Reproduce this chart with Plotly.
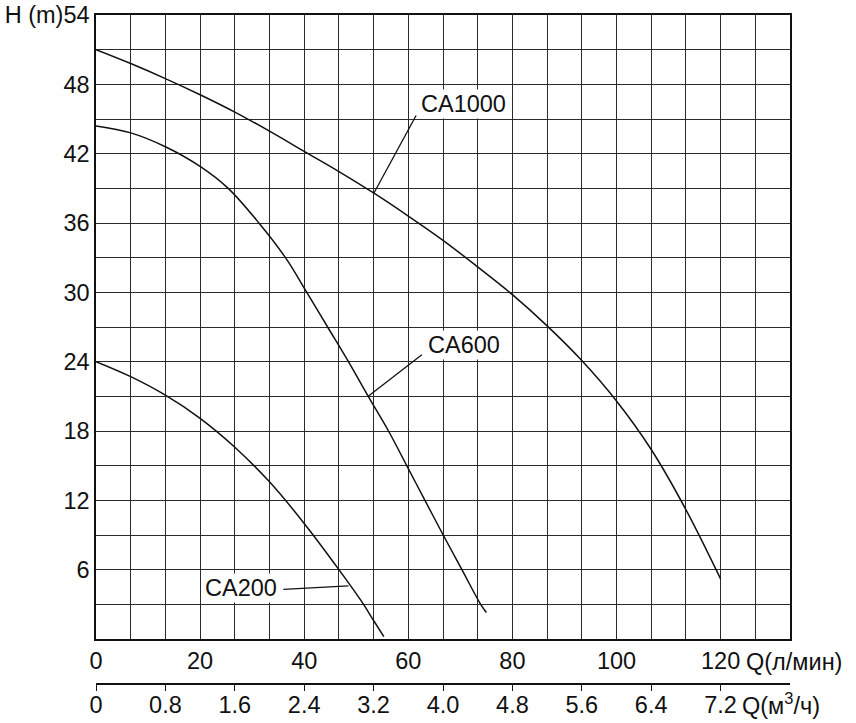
import plotly.graph_objects as go

# ---- data (Q in l/min, H in m) ----
q_ca1000 = [0, 6.67, 13.33, 20, 26.67, 33.33, 40, 46.67, 53.33, 60, 66.67, 73.33, 80, 86.67, 93.33, 100, 106.67, 113.33, 120]
h_ca1000 = [51.0, 49.8, 48.5, 47.1, 45.6, 43.95, 42.2, 40.45, 38.6, 36.6, 34.5, 32.2, 29.8, 27.1, 24.1, 20.6, 16.4, 11.2, 5.2]

q_ca600 = [0, 6.67, 13.33, 20, 25.4, 31.3, 36.4, 40.5, 44.5, 48.5, 52.3, 56.2, 59.7, 63.2, 66.7, 70.3, 73.9, 75.0]
h_ca600 = [44.4, 43.8, 42.6, 40.9, 39.0, 36.0, 33.0, 30.0, 27.0, 24.0, 21.0, 18.0, 15.0, 12.0, 9.0, 6.0, 3.0, 2.3]

q_ca200 = [0, 6.67, 13.33, 20, 26.67, 33.33, 40, 46.67, 51.4, 53.33, 55.3]
h_ca200 = [24.0, 22.7, 21.1, 19.1, 16.6, 13.6, 10.0, 6.0, 3.0, 1.6, 0.2]

series_names = ["CA1000", "CA600", "CA200"]

x_lmin_ticks = [0, 20, 40, 60, 80, 100, 120]
x_m3h_ticks = [0, 0.8, 1.6, 2.4, 3.2, 4.0, 4.8, 5.6, 6.4, 7.2]
x_m3h_labels = ["0", "0.8", "1.6", "2.4", "3.2", "4.0", "4.8", "5.6", "6.4", "7.2"]
y_ticks = [6, 12, 18, 24, 30, 36, 42, 48, 54]
y_labels = ["6", "12", "18", "24", "30", "36", "42", "48", "H (m)54"]

# label placement: (text x, text y, leader start x, y, leader end x, y)
label_pos = {
    "CA1000": (70.7, 46.3, 61.5, 45.3, 53.4, 38.6),
    "CA600": (70.7, 25.4, 62.6, 24.6, 52.3, 21.0),
    "CA200": (27.8, 4.4, 36.0, 4.3, 48.5, 4.6),
}

FONT = "Liberation Sans, Arial, sans-serif"
FS = 23.5
GRID = "#2b2b2b"

fig = go.Figure()
for name, q, h in zip(series_names, [q_ca1000, q_ca600, q_ca200], [h_ca1000, h_ca600, h_ca200]):
    fig.add_trace(go.Scatter(x=q, y=h, mode="lines", name=name,
                             line=dict(color="#111", width=1.5, shape="spline", smoothing=1.0),
                             showlegend=False, hoverinfo="skip"))

# invisible traces to hold the m3/h axis (labels) and its tick marks
for ax in ["x2", "x3"]:
    fig.add_trace(go.Scatter(x=[0, 8], y=[0, 0], xaxis=ax, yaxis="y", mode="lines",
                             line=dict(width=0), opacity=0, showlegend=False, hoverinfo="skip"))

for name, (tx, ty, sx, sy, ex, ey) in label_pos.items():
    fig.add_shape(type="line", x0=sx, y0=sy, x1=ex, y1=ey, xref="x", yref="y",
                  line=dict(color="#111", width=1.3))
    fig.add_annotation(x=tx, y=ty, xref="x", yref="y", text=name, showarrow=False,
                       bgcolor="white", font=dict(family=FONT, size=FS, color="#111"),
                       borderpad=1)

ydom0 = 45 / 669

fig.update_layout(
    width=856, height=723,
    margin=dict(l=96, r=66, t=15, b=39, autoexpand=False),
    paper_bgcolor="white", plot_bgcolor="white",
    font=dict(family=FONT, size=FS, color="#111"),
    xaxis=dict(range=[0, 400 / 3], tickvals=x_lmin_ticks, ticktext=[str(v) for v in x_lmin_ticks],
               showgrid=True, gridcolor=GRID, gridwidth=1.3,
               minor=dict(dtick=20 / 3, tick0=0, showgrid=True, gridcolor=GRID, gridwidth=1.3),
               showline=True, linecolor="#111", linewidth=1.5, mirror=True,
               ticks="", zeroline=False, anchor="y", automargin=False),
    xaxis2=dict(range=[0, 8], overlaying="x", anchor="free", position=0, side="bottom",
                tickvals=x_m3h_ticks, ticktext=x_m3h_labels, ticks="",
                showline=True, linecolor="#111", linewidth=1.5,
                showgrid=False, zeroline=False, automargin=False),
    xaxis3=dict(range=[0, 8], overlaying="x", anchor="free", position=0, side="bottom",
                tickvals=x_m3h_ticks, showticklabels=False,
                ticks="outside", ticklen=6, tickcolor="#111", tickwidth=1.3,
                showline=False, showgrid=False, zeroline=False, automargin=False),
    yaxis=dict(range=[0, 54], domain=[ydom0, 1], tickvals=y_ticks, ticktext=y_labels,
               showgrid=True, gridcolor=GRID, gridwidth=1.3,
               minor=dict(dtick=3, tick0=0, showgrid=True, gridcolor=GRID, gridwidth=1.3),
               showline=True, linecolor="#111", linewidth=1.5, mirror=True,
               ticks="", zeroline=False, automargin=False),
)

fig.add_annotation(x=120, y=(684 - 662) / 669, xref="x", yref="paper", xanchor="left",
                   yanchor="middle", xshift=23, text="Q(л/мин)", showarrow=False,
                   font=dict(family=FONT, size=FS, color="#111"))
fig.add_annotation(x=7.2, y=(684 - 704) / 669, xref="x2", yref="paper", xanchor="left",
                   yanchor="middle", xshift=19, text="Q(м<sup>3</sup>/ч)", showarrow=False,
                   font=dict(family=FONT, size=FS, color="#111"))

fig.write_html("out.html", config={"displayModeBar": False},
               post_script="document.body.style.margin='0px';")
